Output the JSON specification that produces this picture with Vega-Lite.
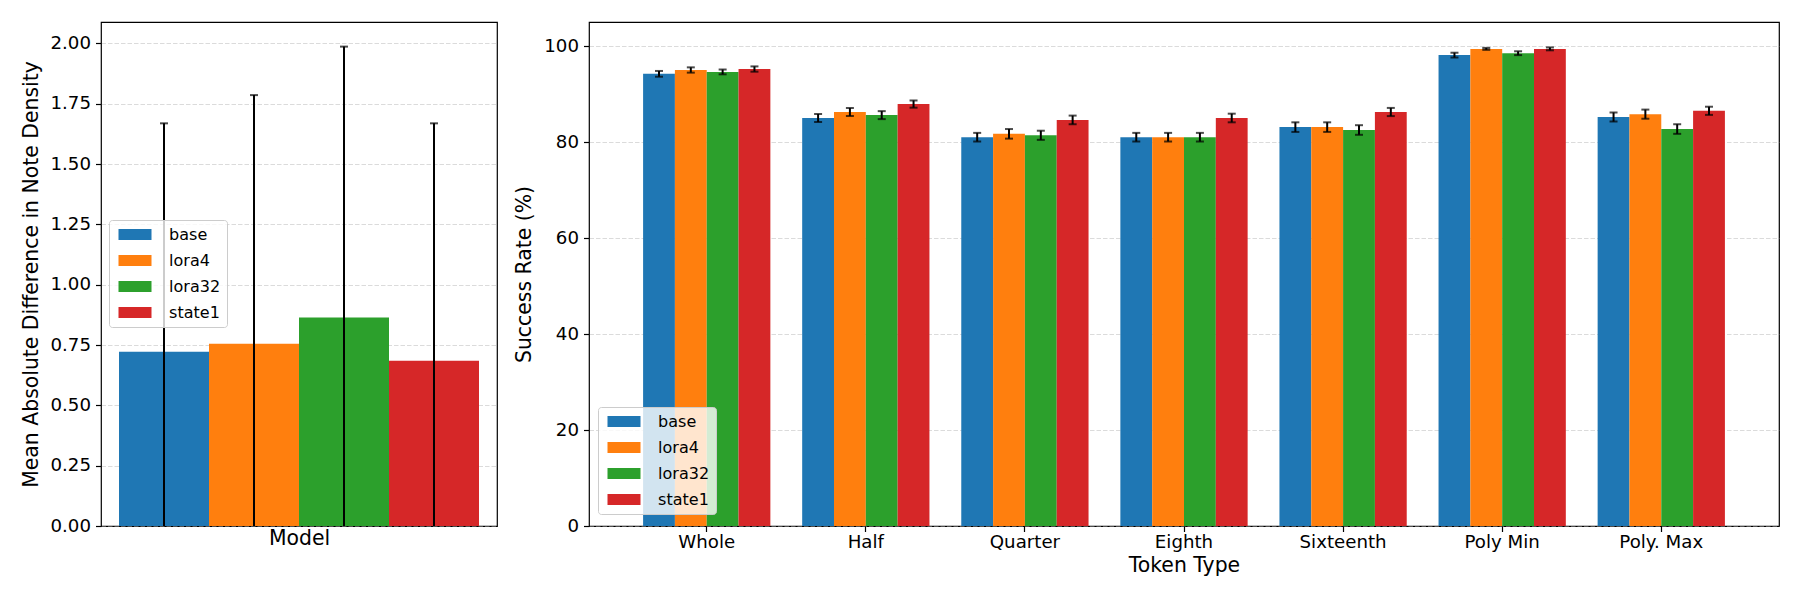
{
  "$schema": "https://vega.github.io/schema/vega-lite/v6.json",
  "padding": {"left": 20, "top": 21, "right": 18, "bottom": 20},
  "bounds": "flush",
  "spacing": 92,
  "config": {
    "font": "DejaVu Sans",
    "view": {"stroke": "black", "strokeWidth": 1.2},
    "axis": {
      "domain": false, "tickColor": "black", "tickWidth": 1.2, "tickSize": 5.5,
      "labelColor": "black", "titleColor": "black", "labelFontSize": 18.2,
      "titleFontSize": 20.4, "titleFontWeight": "normal", "labelPadding": 5,
      "gridColor": "#b0b0b0", "gridOpacity": 0.45, "gridDash": [4.5, 2], "gridWidth": 1,
      "zindex": 1
    },
    "axisX": {"grid": false, "labelAngle": 0},
    "legend": {
      "labelFontSize": 16, "labelColor": "black",
      "symbolType": "M-1,-1.1H5.6V1.1H-1Z", "symbolSize": 100, "symbolStrokeWidth": 0, "symbolOpacity": 1,
      "padding": 6.5, "rowPadding": 10, "labelOffset": 37.6,
      "strokeColor": "#cccccc", "fillColor": "rgba(255,255,255,0.8)", "cornerRadius": 3, "zindex": 2
    }
  },
  "resolve": {"scale": {"color": "independent"}, "legend": {"color": "independent"}},
  "datasets": {
    "density": [
      {"model": "base", "mean": 0.722, "lo": -0.225, "hi": 1.669},
      {"model": "lora4", "mean": 0.755, "lo": -0.276, "hi": 1.786},
      {"model": "lora32", "mean": 0.864, "lo": -0.259, "hi": 1.987},
      {"model": "state1", "mean": 0.685, "lo": -0.299, "hi": 1.669}
    ],
    "success": [
      {"token": "Whole", "model": "base", "rate": 94.2, "lo": 93.6, "hi": 94.8},
      {"token": "Whole", "model": "lora4", "rate": 95.0, "lo": 94.45, "hi": 95.55},
      {"token": "Whole", "model": "lora32", "rate": 94.6, "lo": 94.1, "hi": 95.1},
      {"token": "Whole", "model": "state1", "rate": 95.2, "lo": 94.65, "hi": 95.75},
      {"token": "Half", "model": "base", "rate": 85.0, "lo": 84.17, "hi": 85.83},
      {"token": "Half", "model": "lora4", "rate": 86.25, "lo": 85.42, "hi": 87.08},
      {"token": "Half", "model": "lora32", "rate": 85.6, "lo": 84.77, "hi": 86.43},
      {"token": "Half", "model": "state1", "rate": 87.9, "lo": 87.15, "hi": 88.65},
      {"token": "Quarter", "model": "base", "rate": 81.0, "lo": 80.1, "hi": 81.9},
      {"token": "Quarter", "model": "lora4", "rate": 81.7, "lo": 80.7, "hi": 82.7},
      {"token": "Quarter", "model": "lora32", "rate": 81.4, "lo": 80.45, "hi": 82.35},
      {"token": "Quarter", "model": "state1", "rate": 84.6, "lo": 83.7, "hi": 85.5},
      {"token": "Eighth", "model": "base", "rate": 81.0, "lo": 80.1, "hi": 81.9},
      {"token": "Eighth", "model": "lora4", "rate": 81.0, "lo": 80.1, "hi": 81.9},
      {"token": "Eighth", "model": "lora32", "rate": 81.0, "lo": 80.1, "hi": 81.9},
      {"token": "Eighth", "model": "state1", "rate": 85.0, "lo": 84.1, "hi": 85.9},
      {"token": "Sixteenth", "model": "base", "rate": 83.1, "lo": 82.1, "hi": 84.1},
      {"token": "Sixteenth", "model": "lora4", "rate": 83.1, "lo": 82.1, "hi": 84.1},
      {"token": "Sixteenth", "model": "lora32", "rate": 82.5, "lo": 81.5, "hi": 83.5},
      {"token": "Sixteenth", "model": "state1", "rate": 86.25, "lo": 85.4, "hi": 87.1},
      {"token": "Poly Min", "model": "base", "rate": 98.1, "lo": 97.6, "hi": 98.6},
      {"token": "Poly Min", "model": "lora4", "rate": 99.4, "lo": 99.2, "hi": 99.6},
      {"token": "Poly Min", "model": "lora32", "rate": 98.5, "lo": 98.1, "hi": 98.9},
      {"token": "Poly Min", "model": "state1", "rate": 99.4, "lo": 99.1, "hi": 99.7},
      {"token": "Poly. Max", "model": "base", "rate": 85.2, "lo": 84.25, "hi": 86.15},
      {"token": "Poly. Max", "model": "lora4", "rate": 85.8, "lo": 84.85, "hi": 86.75},
      {"token": "Poly. Max", "model": "lora32", "rate": 82.7, "lo": 81.7, "hi": 83.7},
      {"token": "Poly. Max", "model": "state1", "rate": 86.5, "lo": 85.65, "hi": 87.35}
    ]
  },
  "hconcat": [
    {
      "width": 396, "height": 504,
      "data": {"name": "density"},
      "encoding": {
        "x": {"field": "model", "type": "nominal", "sort": ["base", "lora4", "lora32", "state1"],
              "scale": {"paddingInner": 0, "paddingOuter": 0.2},
              "axis": {"labels": false, "ticks": false, "title": "Model", "titlePadding": 2}}
      },
      "layer": [
        {
          "mark": {"type": "bar"},
          "encoding": {
            "y": {"field": "mean", "type": "quantitative",
                  "scale": {"domain": [0, 2.089], "nice": false, "zero": true},
                  "axis": {"values": [0, 0.25, 0.5, 0.75, 1.0, 1.25, 1.5, 1.75, 2.0], "format": ".2f",
                           "title": "Mean Absolute Difference in Note Density", "titlePadding": 9}},
            "color": {"field": "model", "type": "nominal",
                      "scale": {"domain": ["base", "lora4", "lora32", "state1"], "range": ["#1f77b4", "#ff7f0e", "#2ca02c", "#d62728"]},
                      "legend": {"orient": "none", "legendX": 8, "legendY": 198, "title": null}}
          }
        },
        {
          "mark": {"type": "rule", "clip": true, "color": "black", "strokeWidth": 2},
          "encoding": {"y": {"field": "lo", "type": "quantitative"}, "y2": {"field": "hi"}}
        },
        {
          "mark": {"type": "tick", "clip": true, "color": "black", "thickness": 2, "size": 8},
          "encoding": {"y": {"field": "hi", "type": "quantitative"}}
        }
      ]
    },
    {
      "width": 1190, "height": 504,
      "data": {"name": "success"},
      "encoding": {
        "x": {"field": "token", "type": "nominal",
              "sort": ["Whole", "Half", "Quarter", "Eighth", "Sixteenth", "Poly Min", "Poly. Max"],
              "scale": {"paddingInner": 0.2, "paddingOuter": 0.34},
              "axis": {"title": "Token Type", "labelPadding": 2, "titlePadding": 5}},
        "xOffset": {"field": "model", "type": "nominal", "sort": ["base", "lora4", "lora32", "state1"],
                    "scale": {"paddingInner": 0, "paddingOuter": 0}}
      },
      "layer": [
        {
          "mark": {"type": "bar"},
          "encoding": {
            "y": {"field": "rate", "type": "quantitative",
                  "scale": {"domain": [0, 105], "nice": false},
                  "axis": {"values": [0, 20, 40, 60, 80, 100], "title": "Success Rate (%)", "titlePadding": 9}},
            "color": {"field": "model", "type": "nominal",
                      "scale": {"domain": ["base", "lora4", "lora32", "state1"], "range": ["#1f77b4", "#ff7f0e", "#2ca02c", "#d62728"]},
                      "legend": {"orient": "none", "legendX": 9, "legendY": 385, "title": null}}
          }
        },
        {
          "mark": {"type": "rule", "clip": true, "color": "black", "strokeWidth": 2},
          "encoding": {"y": {"field": "lo", "type": "quantitative"}, "y2": {"field": "hi"}}
        },
        {
          "mark": {"type": "tick", "clip": true, "color": "black", "thickness": 2, "size": 8},
          "encoding": {"y": {"field": "hi", "type": "quantitative"}}
        },
        {
          "mark": {"type": "tick", "clip": true, "color": "black", "thickness": 2, "size": 8},
          "encoding": {"y": {"field": "lo", "type": "quantitative"}}
        }
      ]
    }
  ]
}
